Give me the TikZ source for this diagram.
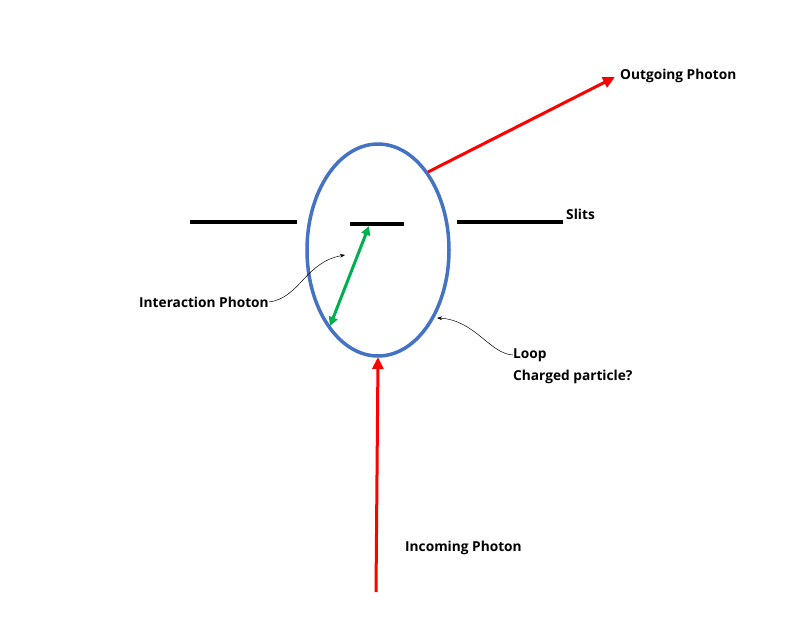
\documentclass[tikz,border=0pt]{standalone}
\usepackage{fontspec}
\setmainfont{Open Sans}
\usetikzlibrary{arrows.meta,shapes.geometric}
\definecolor{loopblue}{RGB}{68,114,196}
\definecolor{pred}{RGB}{255,0,0}
\definecolor{pgreen}{RGB}{0,176,80}
\begin{document}
\begin{tikzpicture}[x=1pt,y=-1pt,
  lbl/.style={font=\bfseries\fontsize{13.7}{16}\selectfont,anchor=west,inner sep=0pt},
  slit/.style={line width=3.5pt},
  photon/.style={draw=pred,line width=3pt,-{Triangle[length=12pt,width=11pt]}},
  thin/.style={-{Stealth[length=5pt]},line width=0.5pt}]
\useasboundingbox (0,0) rectangle (800,640);
\node[draw=loopblue,line width=3.5pt,ellipse,minimum width=142pt,minimum height=212pt,inner sep=0pt] (loop) at (378,250) {};
\draw[slit] (190,222) -- (297,222);
\draw[slit] (350,224) -- (404,224);
\draw[slit] (457,222) -- (563,222);
\coordinate (inS) at (376,592);
\coordinate (inE) at (378,357);
\draw[photon] (inS) -- (inE);
\coordinate (outS) at (428,172);
\coordinate (outE) at (615,77);
\draw[photon] (outS) -- (outE);
\coordinate (gA) at (369,226);
\coordinate (gB) at (330,326);
\draw[pgreen,line width=3pt,{Triangle[length=9pt,width=9pt]}-{Triangle[length=9pt,width=9pt]}] (gA) -- (gB);
\node[lbl] (out) at (620,76) {Outgoing Photon};
\node[lbl] (slits) at (566,214) {Slits};
\node[lbl] (inter) at (139,302) {Interaction Photon};
\node[lbl] (loopl) at (513,355) {Loop};
\node[lbl] (charged) at (513,377) {Charged particle?};
\node[lbl] (inc) at (405,548) {Incoming Photon};
\coordinate (t1) at (345,255);
\draw[thin] (inter.east) .. controls (300,298) and (305,262) .. (t1);
\coordinate (t2) at (437,318);
\draw[thin] (loopl.west) .. controls (490,354) and (475,320) .. (t2);
\end{tikzpicture}
\end{document}
